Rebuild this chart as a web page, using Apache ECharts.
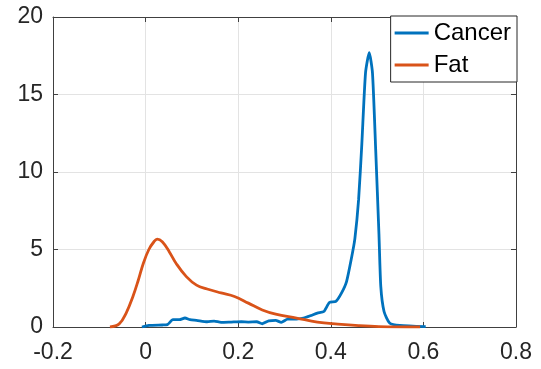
<!DOCTYPE html>
<html>
<head>
<meta charset="utf-8">
<style>
    html, body {margin: 0; padding: 0; background: #fff;}
    #chart {width: 541px; height: 369px;}
</style>
</head>
<body>
<div id="chart"></div>
<script src="https://cdn.jsdelivr.net/npm/echarts@6/dist/echarts.min.js"></script>
<script>
	// 数据：点
	var cancerX = [-0.008, 0.007, 0.036, 0.047, 0.059, 0.073, 0.085, 0.096, 0.11, 0.133, 0.148, 0.163, 0.185, 0.207, 0.222, 0.24, 0.252, 0.266, 0.281, 0.293, 0.307, 0.326, 0.341, 0.356, 0.371, 0.385, 0.397, 0.411, 0.423, 0.434, 0.445, 0.452, 0.46, 0.467, 0.475, 0.483, 0.49, 0.497, 0.504, 0.508, 0.515, 0.527, 0.549, 0.605];
	var cancerY = [0, 0.1, 0.13, 0.15, 0.47, 0.47, 0.58, 0.47, 0.43, 0.34, 0.38, 0.3, 0.32, 0.34, 0.32, 0.34, 0.21, 0.4, 0.43, 0.3, 0.51, 0.51, 0.58, 0.73, 0.9, 1.0, 1.58, 1.65, 2.18, 2.93, 4.5, 5.7, 8.2, 11.8, 16.4, 17.7, 16.4, 11.4, 6.0, 2.6, 1.0, 0.26, 0.1, 0.02];
	var fatX = [-0.077, -0.057, -0.042, -0.027, -0.016, -0.005, 0.007, 0.018, 0.025, 0.036, 0.051, 0.066, 0.088, 0.11, 0.133, 0.163, 0.192, 0.222, 0.252, 0.281, 0.326, 0.371, 0.415, 0.46, 0.504, 0.593];
	var fatY = [0, 0.2, 0.9, 2.0, 3.0, 4.1, 5.0, 5.5, 5.67, 5.5, 4.86, 4.1, 3.25, 2.7, 2.45, 2.2, 1.97, 1.54, 1.1, 0.83, 0.58, 0.32, 0.19, 0.09, 0.03, 0];
	var seriesNames = ['Cancer', 'Fat'];
	var xTicks = [-0.2, 0.8, 0.2];
	var yTicks = [0, 20, 5];

	function pairs(xs, ys) {
		var arr = [];
		for (var i = 0; i < xs.length; i++) {
			arr.push([xs[i], ys[i]]);
		}
		return arr;
	}

	var font = 'Liberation Sans, Arial, sans-serif';
	var axisColor = '#404040';
	var chart = echarts.init(document.getElementById('chart'));
	var option = {
		animation: false,
		color: ['#0072BD', '#D95319'],
		grid: {left: 53, right: 25, top: 17, bottom: 42},
		legend: {
			data: seriesNames,
			orient: 'vertical',
			right: 24,
			top: 16,
			icon: 'rect',
			itemWidth: 34,
			itemHeight: 3,
			itemGap: 8,
			padding: [5, 6, 5, 4],
			backgroundColor: '#fff',
			borderColor: '#262626',
			borderWidth: 1,
			borderRadius: 0,
			textStyle: {fontFamily: font, fontSize: 24, color: '#000'}
		},
		xAxis: [{
			type: 'value',
			min: xTicks[0], max: xTicks[1], interval: xTicks[2],
			axisLine: {show: true, onZero: false, lineStyle: {color: axisColor, width: 1}},
			axisTick: {show: true, inside: true, length: 5, lineStyle: {color: axisColor}},
			axisLabel: {fontFamily: font, fontSize: 23, color: '#262626', margin: 14},
			splitLine: {show: true, lineStyle: {color: '#e3e3e3', width: 1}}
		}, {
			type: 'value', position: 'top',
			min: xTicks[0], max: xTicks[1], interval: xTicks[2],
			axisLine: {show: true, onZero: false, lineStyle: {color: axisColor, width: 1}},
			axisTick: {show: true, inside: true, length: 5, lineStyle: {color: axisColor}},
			axisLabel: {show: false},
			splitLine: {show: false}
		}],
		yAxis: [{
			type: 'value',
			min: yTicks[0], max: yTicks[1], interval: yTicks[2],
			axisLine: {show: true, onZero: false, lineStyle: {color: axisColor, width: 1}},
			axisTick: {show: true, inside: true, length: 5, lineStyle: {color: axisColor}},
			axisLabel: {fontFamily: font, fontSize: 23, color: '#262626', margin: 10},
			splitLine: {show: true, lineStyle: {color: '#e3e3e3', width: 1}}
		}, {
			type: 'value', position: 'right',
			min: yTicks[0], max: yTicks[1], interval: yTicks[2],
			axisLine: {show: true, onZero: false, lineStyle: {color: axisColor, width: 1}},
			axisTick: {show: true, inside: true, length: 5, lineStyle: {color: axisColor}},
			axisLabel: {show: false},
			splitLine: {show: false}
		}],
		series: [{
			name: seriesNames[0],
			type: 'line',
			symbol: 'none',
			smooth: 0.2,
			lineStyle: {width: 2.8},
			data: pairs(cancerX, cancerY),
			z: 3
		}, {
			name: seriesNames[1],
			type: 'line',
			symbol: 'none',
			smooth: 0.4,
			lineStyle: {width: 2.8},
			data: pairs(fatX, fatY),
			z: 4
		}]
	};
	chart.setOption(option);
</script>
</body>
</html>
